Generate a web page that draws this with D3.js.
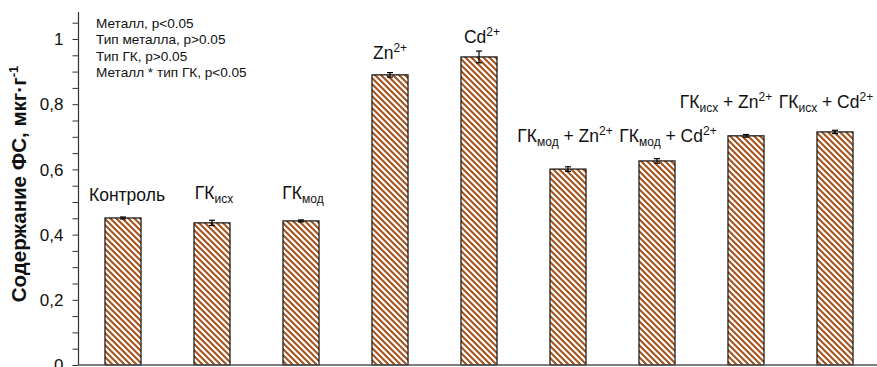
<!DOCTYPE html>
<html><head><meta charset="utf-8">
<script src="https://cdn.jsdelivr.net/npm/d3@7"></script>
<style>
html,body{margin:0;padding:0;background:#fff;}
svg{display:block;font-family:"Liberation Sans",Arial,sans-serif;}
</style></head>
<body>
<svg id="c" width="877" height="367"></svg>
<script>
// ---- data ----
const categories = ["Контроль","ГКисх","ГКмод","Zn2+","Cd2+","ГКмод + Zn2+","ГКмод + Cd2+","ГКисх + Zn2+","ГКисх + Cd2+"];
// label parts: [main, sub, rest, sup]
const labelParts = [
  ["Контроль","","",""],
  ["ГК","исх","",""],
  ["ГК","мод","",""],
  ["Zn","","","2+"],
  ["Cd","","","2+"],
  ["ГК","мод"," + Zn","2+"],
  ["ГК","мод"," + Cd","2+"],
  ["ГК","исх"," + Zn","2+"],
  ["ГК","исх"," + Cd","2+"]
];
const values = [0.451, 0.436, 0.442, 0.890, 0.945, 0.601, 0.626, 0.703, 0.715];
const errors = [0.003, 0.008, 0.003, 0.007, 0.018, 0.007, 0.007, 0.004, 0.005];
const yTickLabels = ["0","0,2","0,4","0,6","0,8","1"];
const yTickValues = [0, 0.2, 0.4, 0.6, 0.8, 1];
const statsLines = ["Металл, p<0.05","Тип металла, p>0.05","Тип ГК, p>0.05","Металл * тип ГК, p<0.05"];
const yTitle = "Содержание ФС, мкг·г";

// ---- layout (annotation placement in data units / px nudges) ----
const labelBaseline = [0.503, 0.509, 0.509, 0.939, 0.988, 0.684, 0.684, 0.788, 0.788];
const labelDx = [4, 2, 2, 0, 3, -3, 11, -20, -9];

const svg = d3.select("#c");
const W = 877;
const y0px = 365, perUnit = 326;
const y = d3.scaleLinear().domain([0, 1.1]).range([y0px, y0px - 1.1*perUnit]);
const x = d3.scaleBand().domain(categories).range([78.5, 879.5]).paddingInner(0.595).paddingOuter(0.2975);

// hatch pattern
const defs = svg.append("defs");
const pat = defs.append("pattern").attr("id","hatch").attr("patternUnits","userSpaceOnUse")
  .attr("width",6).attr("height",6);
pat.append("rect").attr("width",6).attr("height",6).attr("fill","#fff");
pat.append("path").attr("d","M-3,-3 L9,9 M-3,3 L3,9 M3,-3 L9,3")
  .attr("stroke","#A8541E").attr("stroke-width",2.1).attr("fill","none");

// bars
svg.append("g").selectAll("rect").data(values).join("rect")
  .attr("x",(d,i)=>x(categories[i]))
  .attr("y",d=>y(d))
  .attr("width",x.bandwidth())
  .attr("height",d=>y(0)-y(d))
  .attr("fill","url(#hatch)")
  .attr("stroke","#111").attr("stroke-width",1.2);

// error bars
const eb = svg.append("g").attr("stroke","#000").attr("stroke-width",1.2);
values.forEach((v,i)=>{
  const cx = x(categories[i]) + x.bandwidth()/2;
  const lo = y(v - errors[i]), hi = y(v + errors[i]);
  eb.append("line").attr("x1",cx).attr("x2",cx).attr("y1",lo).attr("y2",hi);
  eb.append("line").attr("x1",cx-3).attr("x2",cx+3).attr("y1",lo).attr("y2",lo);
  eb.append("line").attr("x1",cx-3).attr("x2",cx+3).attr("y1",hi).attr("y2",hi);
});

// y axis
const minorTicks = d3.range(0, 1.0501, 0.05);
const ya = svg.append("g").attr("transform","translate(78.5,0)");
ya.call(d3.axisLeft(y).tickValues(minorTicks).tickSize(6).tickFormat(""))
ya.select(".domain").remove();
ya.selectAll(".tick line").attr("stroke","#333").attr("stroke-width",1);
ya.append("line").attr("x1",0).attr("x2",0).attr("y1",y(0)).attr("y2",12).attr("stroke","#333").attr("stroke-width",1.2);
ya.selectAll(".lbl").data(yTickValues).join("text").attr("class","lbl")
  .attr("x",-15).attr("y",d=>y(d)).attr("dy","0.36em")
  .attr("text-anchor","end").attr("font-size",17).attr("fill","#111")
  .text((d,i)=>yTickLabels[i]);

// x axis baseline
svg.append("line").attr("x1",78).attr("x2",W).attr("y1",y(0)).attr("y2",y(0))
  .attr("stroke","#555").attr("stroke-width",1.5);

// y title
const yt = svg.append("text").attr("transform",`translate(26,${184}) rotate(-90)`)
  .attr("text-anchor","middle").attr("font-size",20.5).attr("font-weight","bold").attr("fill","#111");
yt.append("tspan").text(yTitle);
yt.append("tspan").attr("font-size",13).attr("dy",-8).text("-1");

// stats annotation
svg.append("g").selectAll("text").data(statsLines).join("text")
  .attr("x",96).attr("y",(d,i)=>27.5 + i*16.6)
  .attr("font-size",13.6).attr("fill","#111").text(d=>d);

// bar labels
const lg = svg.append("g").attr("font-size",17.5).attr("fill","#111");
labelParts.forEach((p,i)=>{
  const cx = x(categories[i]) + x.bandwidth()/2 + labelDx[i];
  const t = lg.append("text").attr("x",cx).attr("y",y(labelBaseline[i])).attr("text-anchor","middle");
  t.append("tspan").text(p[0]);
  if(p[1]) t.append("tspan").attr("font-size",12).attr("dy",4).text(p[1]);
  let shift = p[1] ? -4 : 0;
  if(p[2]) { t.append("tspan").attr("dy",shift).text(p[2]); shift = 0; }
  if(p[3]) t.append("tspan").attr("font-size",12).attr("dy",shift-7).text(p[3]);
});
</script>
</body></html>
